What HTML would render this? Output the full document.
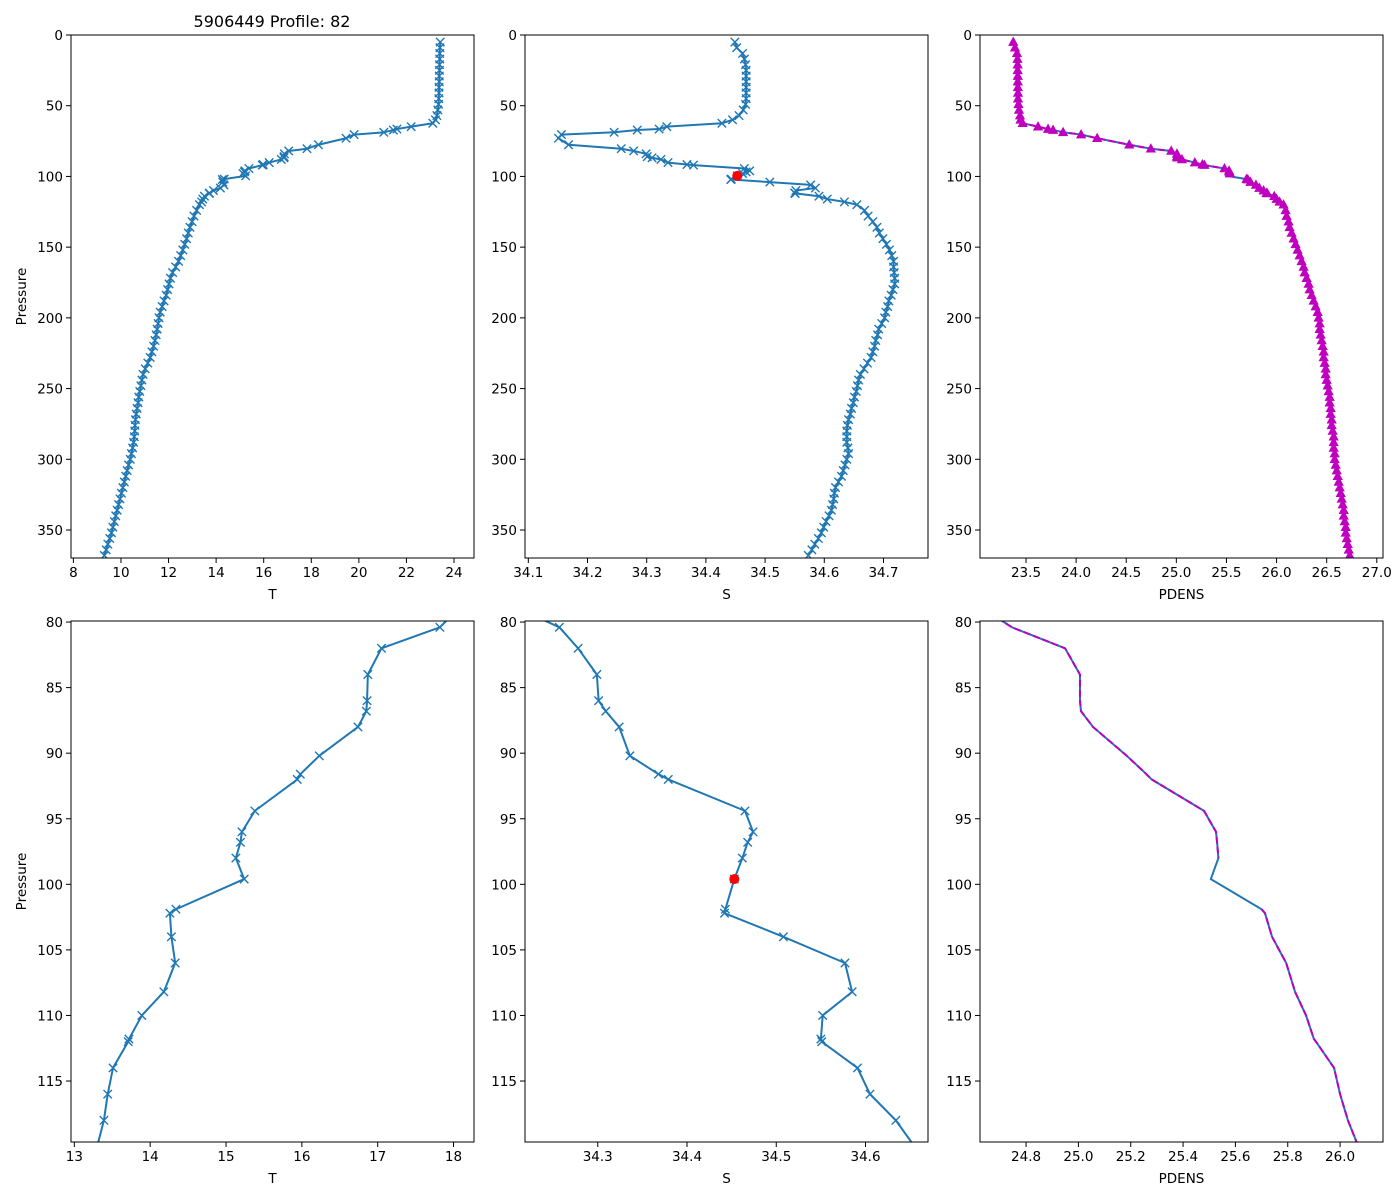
<!DOCTYPE html>
<html><head><meta charset="utf-8"><style>
html,body{margin:0;padding:0;background:#fff;width:1400px;height:1200px;overflow:hidden;}
svg{display:block;font-family:"DejaVu Sans","Liberation Sans",sans-serif;}
</style></head><body>
<svg id="fig" width="1400" height="1200" viewBox="0 0 1400 1200" xmlns="http://www.w3.org/2000/svg">
<rect width="1400" height="1200" fill="#fff"/>
<text x="272" y="27" font-size="16" text-anchor="middle">5906449 Profile: 82</text>
</svg>
<script>
// ---- data ----
const pressure = [5,9,13,17,21,25,29,33,37,41,45,49,53,57,60,
62.4,64.8,66.5,67.2,68.8,70.4,73,77.6,
80.4,82,84,86,86.8,88,90.2,91.6,92,94.4,96,96.8,98,99.6,101.9,102.2,104,106,108.2,110,111.8,112,114,116,118,
120,124,128,132,136,140,144,148,152,156,160,164,168,172,176,180,184,188,192,196,200,204,208,212,216,220,224,228,232,236,240,244,248,252,256,260,264,268,272,276,280,284,288,292,296,300,304,308,312,316,320,324,328,332,336,340,344,348,352,356,360,364,368];
const temperature = [23.42,23.41,23.40,23.40,23.39,23.39,23.38,23.38,23.37,23.37,23.36,23.35,23.32,23.28,23.22,
23.11,22.2,21.6,21.45,21.05,19.8,19.46,18.3,
17.82,17.05,16.87,16.86,16.85,16.74,16.23,15.98,15.94,15.38,15.21,15.19,15.13,15.24,14.34,14.26,14.28,14.33,14.18,13.89,13.72,13.71,13.51,13.44,13.39,
13.30,13.18,13.07,12.99,12.90,12.83,12.76,12.68,12.60,12.51,12.42,12.30,12.17,12.08,12.02,11.96,11.90,11.81,11.73,11.65,11.60,11.56,11.52,11.48,11.43,11.37,11.30,11.23,11.13,11.02,10.93,10.88,10.84,10.79,10.75,10.72,10.68,10.64,10.61,10.59,10.58,10.56,10.53,10.49,10.44,10.39,10.32,10.26,10.20,10.14,10.08,10.02,9.96,9.90,9.84,9.78,9.72,9.66,9.60,9.53,9.45,9.38,9.30];
const salinity = [34.449,34.452,34.462,34.465,34.467,34.468,34.468,34.468,34.468,34.468,34.468,34.467,34.463,34.456,34.445,
34.427,34.334,34.321,34.284,34.245,34.156,34.151,34.168,
34.257,34.278,34.299,34.301,34.309,34.324,34.336,34.368,34.379,34.465,34.474,34.468,34.462,34.453,34.443,34.442,34.508,34.577,34.585,34.552,34.550,34.551,34.591,34.605,34.634,
34.655,34.668,34.674,34.682,34.689,34.693,34.699,34.705,34.710,34.714,34.717,34.717,34.718,34.719,34.719,34.716,34.713,34.709,34.707,34.704,34.702,34.697,34.692,34.690,34.687,34.685,34.682,34.679,34.673,34.667,34.661,34.658,34.656,34.654,34.651,34.649,34.646,34.644,34.641,34.639,34.638,34.638,34.638,34.640,34.641,34.638,34.635,34.632,34.629,34.624,34.619,34.617,34.616,34.614,34.612,34.608,34.603,34.599,34.595,34.590,34.584,34.579,34.573];
const pdens = [23.373,23.39,23.41,23.415,23.417,23.417,23.418,23.418,23.419,23.42,23.42,23.425,23.43,23.44,23.445,
23.467,23.62,23.72,23.77,23.87,24.05,24.21,24.53,
24.746,24.949,25.006,25.006,25.01,25.056,25.185,25.26,25.28,25.48,25.526,25.53,25.535,25.506,25.70,25.713,25.74,25.794,25.828,25.87,25.90,25.908,25.977,26.0,26.03,
26.07,26.09,26.10,26.12,26.13,26.15,26.17,26.19,26.21,26.23,26.25,26.27,26.28,26.30,26.32,26.33,26.35,26.37,26.39,26.41,26.42,26.43,26.43,26.44,26.45,26.46,26.47,26.47,26.48,26.49,26.49,26.50,26.51,26.52,26.53,26.53,26.54,26.54,26.55,26.55,26.56,26.57,26.57,26.57,26.58,26.58,26.59,26.60,26.61,26.62,26.63,26.64,26.65,26.66,26.67,26.67,26.68,26.69,26.69,26.70,26.71,26.72,26.73];
const flagPressure = [99.6];
const flagSalinity = [34.453];
const topYTicks = [0,50,100,150,200,250,300,350];
const botYTicks = [80,85,90,95,100,105,110,115];
const topTTicks = [8,10,12,14,16,18,20,22,24];
const topSTicks = [34.1,34.2,34.3,34.4,34.5,34.6,34.7];
const topPTicks = [23.5,24.0,24.5,25.0,25.5,26.0,26.5,27.0];
const botTTicks = [13,14,15,16,17,18];
const botSTicks = [34.3,34.4,34.5,34.6];
const botPTicks = [24.8,25.0,25.2,25.4,25.6,25.8,26.0];

const NS = "http://www.w3.org/2000/svg";
const fig = document.getElementById('fig');
function mk(tag, attrs, parent){ const e=document.createElementNS(NS,tag); for(const k in attrs) e.setAttribute(k,attrs[k]); (parent||fig).appendChild(e); return e; }
const BLUE = "#1f77b4", MAG = "#bf00bf";
let clipId = 0;

function panel(name, x0, y0, x1, y1, xmin, xmax, ymin, ymax, xTicks, yTicks, xLabel, showYLabel, xDec, series){
  const sx = v => x0 + (v - xmin) / (xmax - xmin) * (x1 - x0);
  const sy = v => y0 + (v - ymin) / (ymax - ymin) * (y1 - y0);
  const inR = i => i >= 0 && i < pressure.length && pressure[i] >= ymin && pressure[i] <= ymax;
  const onLine = i => inR(i) || inR(i-1) || inR(i+1);
  const g = mk('g', {});
  
  
  const cid = 'clip' + (clipId++);
  const cp = mk('clipPath', {id: cid}, g);
  mk('rect', {x:x0, y:y0, width:x1-x0, height:y1-y0}, cp);
  const plot = mk('g', {'clip-path': 'url(#' + cid + ')'}, g);
  
  
  series(plot, sx, sy, inR, onLine, ymin, ymax);
  const frame = mk('rect', {x:x0, y:y0, width:x1-x0, height:y1-y0, fill:'none', stroke:'#000', 'stroke-width':1}, g);
  
  
  xTicks.forEach(t => {
    const x = sx(t);
    mk('line', {x1:x, y1:y1, x2:x, y2:y1+5, stroke:'#000', 'stroke-width':1}, g);
    const lb = mk('text', {x:x, y:y1+19, 'font-size':13.5, 'text-anchor':'middle'}, g);
    
    
    lb.textContent = t.toFixed(xDec);
  });
  yTicks.forEach(t => {
    const y = sy(t);
    mk('line', {x1:x0-5, y1:y, x2:x0, y2:y, stroke:'#000', 'stroke-width':1}, g);
    const lb = mk('text', {x:x0-8, y:y+5, 'font-size':13.5, 'text-anchor':'end'}, g);
    
    
    lb.textContent = String(t);
  });
  const xl = mk('text', {x:(x0+x1)/2, y:y1+41, 'font-size':13.5, 'text-anchor':'middle'}, g);
  
  
  xl.textContent = xLabel;
  if (showYLabel){
    const cy = (y0+y1)/2;
    const yl = mk('text', {x:26, y:cy, 'font-size':13.5, 'text-anchor':'middle', transform:'rotate(-90 26 '+cy+')'}, g);
    
    
    yl.textContent = 'Pressure';
  }
}

function linePath(vals, sx, sy, onLine, skipFlag){
  let d = '', pen = false;
  vals.forEach((v,i) => {
    if (!onLine(i)) { pen = false; return; }
    if (skipFlag && flagPressure.indexOf(pressure[i]) >= 0){ pen = false; return; }
    d += (pen ? 'L' : 'M') + sx(v).toFixed(2) + ' ' + sy(pressure[i]).toFixed(2) + ' ';
    pen = true;
  });
  return d;
}

function xSeries(vals, label, withFlag){
  return (p, sx, sy, inR, onLine, ymin, ymax) => {
    const ln = mk('path', {d: linePath(vals, sx, sy, onLine, false), fill:'none', stroke:BLUE, 'stroke-width':2, 'stroke-linejoin':'round'}, p);
    
    
    vals.forEach((v,i) => {
      if (!inR(i)) return;
      const x = sx(v), y = sy(pressure[i]), r = 4.2;
      const m = mk('path', {d:`M${x-r} ${y-r}L${x+r} ${y+r}M${x-r} ${y+r}L${x+r} ${y-r}`, stroke:BLUE, 'stroke-width':1.4}, p);
      
      
    });
    if (withFlag){
      flagPressure.forEach((fp,i) => {
        if (fp < ymin || fp > ymax) return;
        const c = mk('circle', {cx:sx(flagSalinity[i]), cy:sy(fp), r:5, fill:'#ff0000'}, p);
        
        
      });
    }
  };
}
function pdSeries(withMarkers){
  return (p, sx, sy, inR, onLine) => {
    const ln = mk('path', {d:linePath(pdens, sx, sy, onLine, false), fill:'none', stroke:BLUE, 'stroke-width':2}, p);
    
    
    const dl = mk('path', {d:linePath(pdens, sx, sy, onLine, true), fill:'none', stroke:MAG, 'stroke-width':2, 'stroke-dasharray':'7 3'}, p);
    
    
    if (withMarkers){
      pdens.forEach((v,i) => {
        if (!inR(i) || flagPressure.indexOf(pressure[i]) >= 0) return;
        const x = sx(v), y = sy(pressure[i]);
        const m = mk('path', {d:`M${x} ${y-4.5}L${x+4.3} ${y+3.3}L${x-4.3} ${y+3.3}Z`, fill:MAG, stroke:MAG, 'stroke-width':1}, p);
        
        
      });
    }
  };
}

const TY0=35, TY1=558, BY0=621, BY1=1142;
panel('top-temperature-panel', 71, TY0, 474, TY1, 7.90, 24.84, 0, 369.8, topTTicks, topYTicks, 'T', true, 0, xSeries(temperature,'temperature',false));
panel('top-salinity-panel', 525, TY0, 928, TY1, 34.0944, 34.7752, 0, 369.8, topSTicks, topYTicks, 'S', false, 1, xSeries(salinity,'salinity',true));
panel('top-pdens-panel', 980, TY0, 1383, TY1, 23.041, 27.062, 0, 369.8, topPTicks, topYTicks, 'PDENS', false, 1, pdSeries(true));
panel('zoom-temperature-panel', 71, BY0, 474, BY1, 12.956, 18.27, 79.92, 119.65, botTTicks, botYTicks, 'T', true, 0, xSeries(temperature,'temperature',false));
panel('zoom-salinity-panel', 525, BY0, 928, BY1, 34.2185, 34.670, 79.92, 119.65, botSTicks, botYTicks, 'S', false, 1, xSeries(salinity,'salinity',true));
panel('zoom-pdens-panel', 980, BY0, 1383, BY1, 24.624, 26.164, 79.92, 119.65, botPTicks, botYTicks, 'PDENS', false, 1, pdSeries(false));
</script>
</body></html>
